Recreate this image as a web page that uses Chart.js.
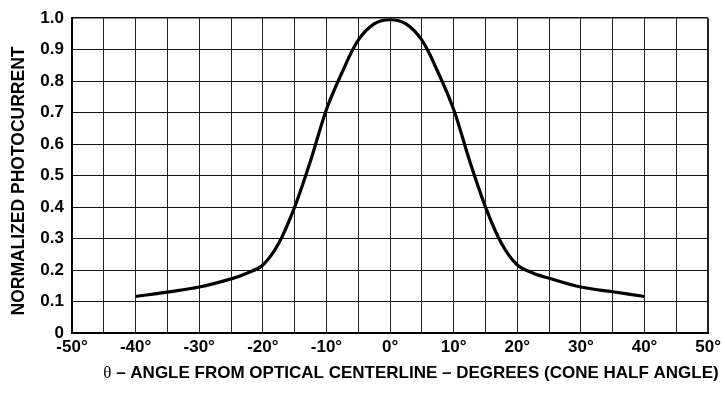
<!DOCTYPE html>
<html>
<head>
<meta charset="utf-8">
<script src="https://cdn.jsdelivr.net/npm/chart.js@4"></script>
<style>
  html, body { margin: 0; padding: 0; background: #fff; }
  #wrap { width: 725px; height: 393px; }
</style>
</head>
<body>
<div id="wrap"><canvas id="c" width="725" height="393"></canvas></div>
<script>
// Angular response: cone half angle (degrees) vs normalized photocurrent
const angles = [-40, -35, -30, -25, -22.5, -20, -17.5, -15, -12.5, -10, -7.5, -5, -2.5, 0,
                2.5, 5, 7.5, 10, 12.5, 15, 17.5, 20, 22.5, 25, 30, 35, 40];
const photocurrent = [0.116, 0.130, 0.146, 0.172, 0.190, 0.216, 0.285, 0.400, 0.547, 0.710, 0.830, 0.930, 0.982, 0.995,
                      0.982, 0.930, 0.830, 0.710, 0.547, 0.400, 0.285, 0.216, 0.190, 0.174, 0.146, 0.131, 0.116];
const xTickLabels = ['-50°', '-40°', '-30°', '-20°', '-10°', '0°', '10°', '20°', '30°', '40°', '50°'];
const yTickLabels = ['0', '0.1', '0.2', '0.3', '0.4', '0.5', '0.6', '0.7', '0.8', '0.9', '1.0'];
const yTitle = 'NORMALIZED PHOTOCURRENT';
const xTitleSymbol = 'θ';
const xTitleText = ' – ANGLE FROM OPTICAL CENTERLINE – DEGREES (CONE HALF ANGLE)';

const SANS = '"Liberation Sans", Arial, Helvetica, sans-serif';
const SERIF = '"Liberation Serif", "Times New Roman", serif';

const points = angles.map((a, i) => ({ x: a, y: photocurrent[i] }));

// Axis titles drawn by hand so the theta can use a serif face
const axisTitles = {
  id: 'axisTitles',
  afterDraw(chart) {
    const ctx = chart.ctx;
    ctx.save();
    ctx.fillStyle = '#000';
    // vertical title
    ctx.font = 'bold 17.5px ' + SANS;
    ctx.translate(24, 181);
    ctx.rotate(-Math.PI / 2);
    ctx.textAlign = 'center';
    ctx.textBaseline = 'alphabetic';
    ctx.fillText(yTitle, 0, 0);
    ctx.restore();

    // horizontal title
    ctx.save();
    ctx.fillStyle = '#000';
    ctx.textBaseline = 'alphabetic';
    ctx.textAlign = 'left';
    ctx.font = '17px ' + SERIF;
    const w1 = ctx.measureText(xTitleSymbol).width;
    ctx.font = 'bold 17px ' + SANS;
    const w2 = ctx.measureText(xTitleText).width;
    const x = 411 - (w1 + w2) / 2;
    const base = 378;
    ctx.font = '17px ' + SERIF;
    ctx.fillText(xTitleSymbol, x, base);
    ctx.font = 'bold 17px ' + SANS;
    ctx.fillText(xTitleText, x + w1, base);
    ctx.restore();
  }
};

new Chart(document.getElementById('c'), {
  type: 'line',
  data: {
    datasets: [{
      data: points,
      borderColor: '#000',
      borderWidth: 3.2,
      pointRadius: 0,
      fill: false,
      tension: 0.35
    }]
  },
  options: {
    responsive: false,
    animation: false,
    devicePixelRatio: 1,
    layout: { padding: { left: 0, right: 16, top: 14, bottom: 0 } },
    plugins: { legend: { display: false }, tooltip: { enabled: false } },
    scales: {
      x: {
        type: 'linear',
        min: -50,
        max: 50,
        afterFit(scale) { scale.height = 60; },
        afterBuildTicks(scale) {
          const t = [];
          for (let v = -50; v <= 50; v += 5) t.push({ value: v });
          scale.ticks = t;
        },
        ticks: {
          autoSkip: false,
          maxRotation: 0,
          padding: 4,
          color: '#000',
          font: { family: SANS, size: 17, weight: 'bold' },
          callback(v) {
            return v % 10 === 0 ? xTickLabels[(v + 50) / 10] : '';
          }
        },
        grid: {
          color: '#222',
          lineWidth: (c) => (c.tick && c.tick.value === 50 ? 2 : 1),
          drawTicks: false
        },
        border: { color: '#000', width: 2 }
      },
      y: {
        min: 0,
        max: 1,
        afterFit(scale) { scale.width = 72; },
        afterBuildTicks(scale) {
          const t = [];
          for (let i = 0; i <= 10; i++) t.push({ value: i / 10 });
          scale.ticks = t;
        },
        ticks: {
          autoSkip: false,
          padding: 8,
          color: '#000',
          font: { family: SANS, size: 17, weight: 'bold' },
          callback(v) {
            return yTickLabels[Math.round(v * 10)];
          }
        },
        grid: {
          color: '#111',
          lineWidth: (c) => (c.tick && Math.round(c.tick.value * 10) === 10 ? 1.5 : 1),
          drawTicks: false
        },
        border: { color: '#000', width: 2 }
      }
    }
  },
  plugins: [axisTitles]
});
</script>
</body>
</html>
